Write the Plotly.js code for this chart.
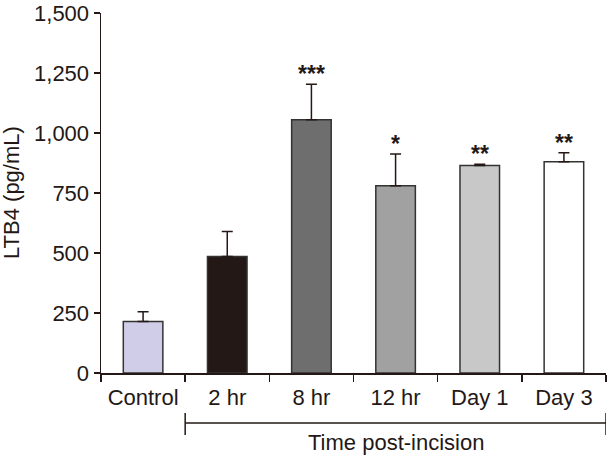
<!DOCTYPE html>
<html>
<head>
<meta charset="utf-8">
<script src="https://cdn.plot.ly/plotly-3.0.1.min.js"></script>
<style>html,body{margin:0;padding:0;background:#fff;}#chart{width:607px;height:456px;}</style>
</head>
<body>
<div id="chart"></div>
<script>
var categories = ["Control", "2 hr", "8 hr", "12 hr", "Day 1", "Day 3"];
var values = [215, 485, 1055, 780, 865, 880];
var errors = [40, 105, 148, 132, 5, 38];
var significance = ["", "", "***", "*", "**", "**"];
var barColors = ["#d0cde8", "#231815", "#6e6e6e", "#a0a1a0", "#c8c8c8", "#ffffff"];
var yTickValues = [0, 250, 500, 750, 1000, 1250, 1500];
var groupLabel = "Time post-incision";
var yTitle = "LTB4 (pg/mL)";

var ink = "#231815";
var fontFam = "Liberation Sans, Arial, sans-serif";
var fs = 22;

var trace = {
  type: "bar",
  x: categories,
  y: values,
  width: 0.47,
  marker: {color: barColors, line: {color: "#333333", width: 1.5}},
  error_y: {type: "data", array: errors, symmetric: false, arrayminus: errors.map(function(){return 0;}),
            color: ink, thickness: 1.5, width: 5.5},
  hoverinfo: "none"
};

var annotations = [];
categories.forEach(function(c, i) {
  if (significance[i]) {
    annotations.push({x: c, y: values[i] + errors[i], xref: "x", yref: "y",
      text: "<b>" + significance[i] + "</b>", showarrow: false, yanchor: "bottom", yshift: -5,
      font: {family: fontFam, size: 23, color: ink}});
  }
});
annotations.push({x: 3, y: -0.194, xref: "x", yref: "paper", text: groupLabel,
  showarrow: false, yanchor: "middle", font: {family: fontFam, size: fs, color: ink}});
annotations.push({x: 0, y: 0.5, xref: "paper", yref: "paper", text: yTitle, textangle: -90,
  showarrow: false, xanchor: "center", yanchor: "middle", xshift: -90,
  font: {family: fontFam, size: fs, color: ink}});

var shapes = [
  {type: "line", xref: "x", yref: "paper", x0: 0.5, x1: 5.5, y0: -0.139, y1: -0.139, line: {color: ink, width: 1.5}},
  {type: "line", xref: "x", yref: "paper", x0: 0.5, x1: 0.5, y0: -0.111, y1: -0.172, line: {color: ink, width: 1.5}},
  {type: "line", xref: "x", yref: "paper", x0: 5.5, x1: 5.5, y0: -0.111, y1: -0.172, line: {color: ink, width: 1.5}}
];

var layout = {
  width: 607, height: 456,
  margin: {l: 101, r: 1, t: 13, b: 83},
  paper_bgcolor: "#fff", plot_bgcolor: "#fff",
  showlegend: false,
  font: {family: fontFam, size: fs, color: ink},
  xaxis: {
    type: "category", range: [-0.5, 5.5], tickson: "boundaries",
    ticks: "outside", ticklen: 7, tickwidth: 1.5, tickcolor: ink,
    showline: true, linecolor: ink, linewidth: 1.5,
    showgrid: false, zeroline: false, fixedrange: true,
    ticklabelstandoff: 4,
    tickfont: {family: fontFam, size: fs, color: ink}
  },
  yaxis: {
    range: [0, 1500], tickvals: yTickValues, tickformat: ",d",
    ticklabeloverflow: "allow",
    ticks: "outside", ticklen: 6, tickwidth: 1.5, tickcolor: ink,
    showline: true, linecolor: ink, linewidth: 1.5,
    showgrid: false, zeroline: false, fixedrange: true,
    tickfont: {family: fontFam, size: fs, color: ink}
  },
  annotations: annotations,
  shapes: shapes
};

Plotly.newPlot("chart", [trace], layout, {displayModeBar: false, staticPlot: true});
</script>
</body>
</html>
